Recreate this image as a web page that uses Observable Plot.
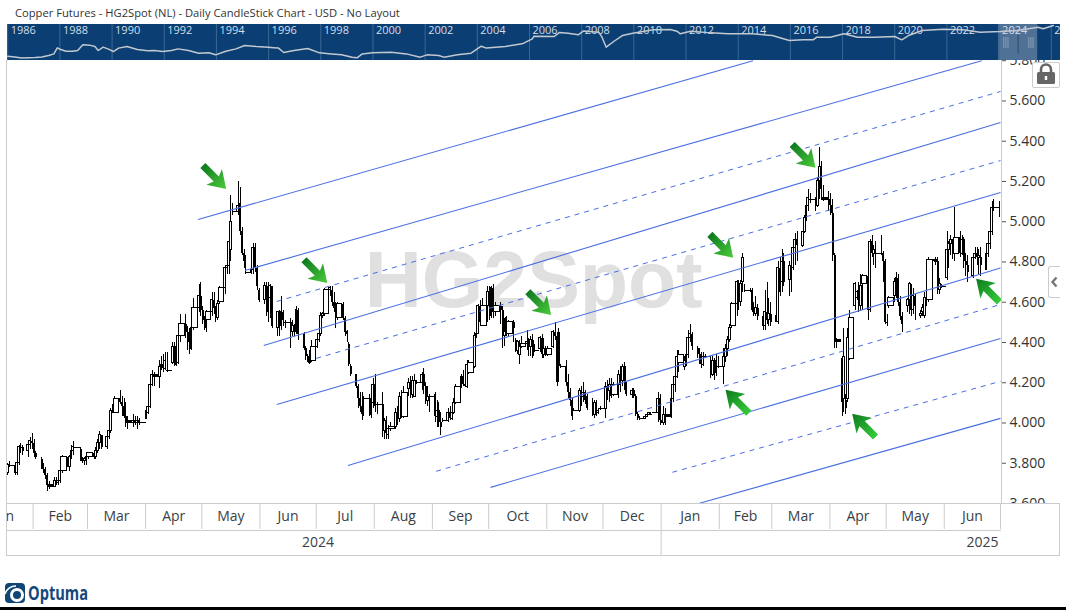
<!DOCTYPE html>
<html><head><meta charset="utf-8">
<script src="https://cdn.jsdelivr.net/npm/d3@7"></script>
<script src="https://cdn.jsdelivr.net/npm/@observablehq/plot@0.6"></script>
<style>
html,body{margin:0;padding:0;background:#fff;overflow:hidden}
#page{position:relative;width:1066px;height:610px;overflow:hidden;font-family:"Open Sans",sans-serif;color:#333}
#page>*{position:absolute}
.ln{background:#ccc}
</style></head><body><div id="page"></div>
<script>
// ---- Candles: daily prices in US cents, one row per trading week ----
const tradingStart = "2024-01-18", tradingEnd = "2025-07-02";
const openCents = [375,379,
379,375,380,388,388, 386,389,391,390,385, 382,378,377,374,369, 368,371,370,371,376, 383,378,383,386,388, 387,382,381,382,383,
385,383,386,390,394, 388,393,396,406,405, 412,410,408,403,401, 400,401,400,401,400, 402,405,408,419,424, 423,428,429,427,426,
430,438,429,430,443, 449,445,440,437,447, 457,463,456,451,451, 455,461,457,452,460, 467,477,478,486,505, 505,509,495,484,475,
475,476,487,477,466, 461,468,455,462,468, 447,455,448,455,450, 450,445,448,445,456, 444,437,433,431,431, 438,441,444,453,454,
466,466,460,458,452, 459,452,445,439,428, 424,418,412,408,412, 412,404,410,419,409, 409,396,397,394,397, 398,405,402,413,403,
417,420,414,413,420, 420,424,418,411,413, 414,403,406,400,401, 401,405,402,405,410, 418,423,419,418,425, 428,443,444,458,448,
458,465,453,467,455, 458,456,443,444,444, 450,441,436,434,438, 439,440,438,441,436, 437,442,434,437,434, 438,445,443,445,428,
428,420,415,411,406, 406,416,413,415,413, 407,404,410,405,407, 407,418,416,418,414, 419,424,421,428,418, 414,416,413,404,402,
402,403,404,404,405, 405,412,401,400,404, 403,412,419,423,430, 428,431,434,442,444, 437,434,431,429,433, 431,424,431,425,428,
428,433,437,441,448, 459,468,460,470,466, 466,466,456,454,457, 453,448,455,451,454, 450,450,477,470,480, 471,478,477,487,491,
488,495,502,508,511, 511,508,520,527,512, 511,508,504,483,441, 432,412,411,412,432, 458,462,465,458,469, 473,456,490,484,484,
484,484,480,450,458, 463,470,472,460,453, 458,461,465,456,463, 453,455,453,462,461, 481,481,480,466,468, 472,486,489,490,484,
492,484,491,480,478, 473,482,484,482,482, 476,484,489,495,507,
507,503];
const highCents = [380,381,
380,380,389,390,389, 391,393,395,392,386, 383,380,378,375,371, 373,373,374,377,384, 383,384,389,391,388, 388,383,383,384,385,
385,388,392,396,394, 394,397,407,409,413, 416,413,412,410,403, 404,403,403,402,400, 408,411,420,426,425, 431,433,434,435,435,
440,440,436,447,454, 454,448,447,450,462, 469,470,458,453,456, 465,465,458,461,468, 478,478,495,513,509, 520,517,497,486,483,
477,489,489,478,467, 470,470,470,469,468, 455,456,463,456,451, 452,451,449,458,457, 445,438,434,436,441, 444,447,455,455,467,
468,468,465,460,460, 460,453,446,440,429, 424,419,415,415,413, 414,416,422,424,410, 415,402,403,399,400, 407,408,415,416,418,
422,423,423,424,421, 425,427,420,418,414, 415,411,410,405,402, 407,408,408,412,419, 424,426,429,431,431, 445,447,459,461,462,
468,468,468,469,460, 460,458,452,453,451, 451,442,441,441,443, 446,442,443,444,439, 443,444,442,438,438, 446,450,445,447,429,
431,424,417,412,407, 417,418,420,416,414, 412,411,411,407,408, 420,421,422,422,420, 426,428,429,430,420, 417,417,414,405,403,
403,404,405,405,405, 415,414,404,408,407, 414,421,426,436,436, 433,435,446,449,445, 438,437,435,435,434, 433,433,432,434,433,
437,439,443,449,460, 471,471,471,484,469, 467,467,460,463,459, 454,466,470,462,460, 458,480,482,486,484, 480,480,489,494,495,
495,503,510,516,514, 512,522,537,530,518, 515,514,511,484,442, 433,447,414,447,456, 470,466,470,474,474, 473,491,493,488,490,
493,485,481,454,463, 472,475,474,463,455, 462,470,469,467,464, 456,459,465,467,482, 481,482,482,472,469, 495,490,493,491,507,
495,493,492,484,483, 483,487,487,486,487, 488,494,497,510,511,
510,512];
const lowCents = [374,378,
374,374,379,385,384, 383,387,387,383,382, 377,375,372,366,367, 368,369,369,370,375, 378,376,382,384,388, 381,380,379,379,382,
382,382,385,387,387, 387,392,395,405,405, 409,403,402,398,397, 398,399,397,399,400, 402,404,407,418,418, 417,426,425,426,425,
429,428,428,429,440, 442,436,434,436,446, 455,453,449,446,445, 453,454,450,451,459, 464,474,474,480,503, 503,493,483,477,474,
474,474,475,466,460, 459,453,450,452,447, 443,443,446,448,447, 437,443,443,444,441, 436,431,430,429,430, 437,440,443,452,453,
463,458,455,447,451, 451,443,440,428,423, 417,407,405,401,403, 403,402,407,405,404, 393,392,392,392,396, 397,399,400,402,402,
413,412,412,413,419, 416,414,409,408,405, 400,398,398,394,400, 400,401,401,404,409, 417,418,418,417,424, 427,442,444,448,448,
450,451,452,452,453, 449,437,438,443,443, 440,435,434,429,437, 436,433,433,432,435, 435,432,432,433,433, 437,441,418,420,427,
418,412,408,401,406, 405,408,410,409,406, 403,402,403,404,406, 402,411,410,412,413, 412,415,418,416,413, 412,412,403,401,401,
402,403,404,404,405, 400,399,400,399,399, 402,410,415,422,425, 426,428,432,440,436, 432,429,427,428,432, 422,423,421,423,427,
419,430,433,440,447, 453,456,458,465,465, 465,455,453,453,451, 446,446,449,448,448, 450,449,463,465,468, 463,465,476,478,480,
487,494,500,505,509, 505,507,511,512,510, 505,503,480,437,437, 403,405,404,410,431, 456,461,455,456,456, 451,455,482,478,477,
483,470,449,448,457, 460,462,458,451,445, 455,454,453,454,451, 452,453,452,458,460, 480,478,464,464,467, 471,477,483,481,480,
482,483,477,473,470, 472,481,478,474,473, 476,482,486,493,505,
502,502];
const closeCents = [379,379,
375,380,388,388,386, 389,391,390,385,383, 378,377,374,369,368, 371,370,371,376,383, 381,383,386,388,388, 382,381,382,383,385,
383,386,390,394,388, 393,396,406,405,412, 410,408,403,400,400, 401,400,401,400,400, 406,408,419,424,423, 428,429,427,431,426,
438,429,431,443,449, 445,440,437,447,457, 463,456,451,447,455, 461,457,452,459,467, 477,478,490,500,505, 508,495,484,480,475,
476,487,477,468,461, 468,455,462,468,448, 455,448,455,451,450, 445,448,445,456,444, 437,433,431,430,438, 441,444,453,454,466,
467,460,457,452,459, 452,445,444,429,424, 418,412,408,404,412, 404,410,419,408,409, 396,401,395,397,398, 405,402,413,403,415,
420,414,421,421,420, 424,418,411,413,413, 403,406,400,398,401, 405,402,405,410,418, 423,419,418,429,430, 443,444,458,450,458,
465,453,467,455,458, 456,443,445,452,450, 447,436,440,438,439, 440,438,441,433,436, 442,434,437,434,437, 445,443,420,428,428,
420,415,411,403,406, 416,413,415,411,407, 404,410,405,406,407, 418,416,419,413,419, 424,421,428,418,414, 416,413,404,402,402,
403,404,405,404,405, 412,401,400,404,403, 412,419,423,433,434, 431,434,442,444,438, 434,431,429,433,433, 424,431,425,430,428,
433,437,441,447,459, 470,460,469,482,466, 466,456,454,457,453, 448,455,451,454,450, 453,477,465,480,470, 478,473,487,491,488,
495,502,508,512,511, 508,520,527,516,511, 508,504,483,441,440, 410,433,407,442,452, 469,465,458,468,473, 456,490,484,486,484,
484,480,450,450,462, 470,472,460,453,449, 461,469,456,463,458, 454,457,462,460,481, 481,480,466,469,468, 486,489,491,484,492,
484,491,480,478,475, 482,484,482,483,478, 484,489,495,507,507,
505,507];

// ---- Channel lines: start date/price and the price where they leave the chart ----
const solidStart = ["2024-04-29","2024-05-24","2024-06-03","2024-06-10","2024-07-18","2024-10-02","2025-01-21"];
const solidStartPrice = [5.011,4.758,4.385,4.092,3.789,3.680,3.600];
const solidEnd = ["2025-02-19","2025-06-21","2025-07-01","2025-07-01","2025-07-01","2025-07-01","2025-07-01"];
const solidEndPrice = [5.80,5.80,5.493,5.145,4.770,4.420,4.023];
const dashStart = ["2024-06-10","2024-07-01","2024-09-03","2025-01-07"];
const dashStartPrice = [4.604,4.321,3.760,3.755];
const dashEnd = ["2025-07-01","2025-07-01","2025-07-01","2025-07-01"];
const dashEndPrice = [5.647,5.304,4.589,4.207];

// ---- Arrow tips ----
const downArrowDates = ["2024-05-14","2024-07-06T22:00Z","2024-11-03T08:00Z","2025-02-08T10:00Z","2025-03-24T08:00Z"];
const downArrowPrices = [5.163,4.695,4.536,4.821,5.268];
const upArrowDates = ["2025-02-04T08:00Z","2025-04-12T22:00Z","2025-06-18"];
const upArrowPrices = [4.165,4.046,4.717];

// ---- Axis text ----
const priceTicks = [3.6,3.8,4.0,4.2,4.4,4.6,4.8,5.0,5.2,5.4,5.6,5.8];
const monthNames = ["Jan","Feb","Mar","Apr","May","Jun","Jul","Aug","Sep","Oct","Nov","Dec","Jan","Feb","Mar","Apr","May","Jun"];
const monthStarts = ["2024-01-01","2024-02-01","2024-03-01","2024-04-01","2024-05-01","2024-06-01","2024-07-01","2024-08-01","2024-09-01","2024-10-01","2024-11-01","2024-12-01","2025-01-01","2025-02-01","2025-03-01","2025-04-01","2025-05-01","2025-06-01","2025-07-01"];

// ---- Overview strip (history since 1986) ----
const historyYears = [1986,1986.27,1986.53,1986.79,1987.05,1987.31,1987.57,1987.77,1987.9,1988.03,1988.23,1988.49,1988.68,1988.88,1989.14,1989.34,1989.47,1989.66,1989.86,1990.05,1990.25,1990.57,1990.97,1991.36,1991.62,1991.95,1992.27,1992.53,1992.93,1993.32,1993.71,1993.97,1994.36,1994.75,1995.08,1995.53,1995.99,1996.19,1996.38,1996.58,1996.97,1997.5,1997.95,1998.41,1998.8,1999.2,1999.39,1999.59,1999.98,2000.7,2001.28,2001.81,2002.07,2002.52,2002.72,2003.24,2003.76,2004.15,2004.35,2005.07,2005.72,2006.11,2006.17,2006.95,2007.15,2007.48,2007.87,2008.06,2008.65,2008.78,2008.94,2009.24,2009.56,2009.96,2010.35,2010.74,2011.39,2011.65,2011.78,2012.17,2012.96,2013.61,2014.53,2015.31,2015.96,2016.48,2016.87,2017,2017.53,2018.05,2018.57,2019.22,2020,2020.27,2020.53,2021.05,2021.84,2022.62,2023.27,2024.05,2024.71,2025.49,2025.69,2026.08];
const historyPrices = [.67,.64,.59,.60,.61,.64,.71,.79,1.20,1.07,.95,.95,1.0,1.48,1.45,1.32,1.0,1.26,1.10,.93,1.18,1.32,1.07,.98,1.0,.93,1.0,1.12,1.0,.83,.85,.74,.95,1.12,1.42,1.32,1.26,1.22,1.18,.87,1.0,1.15,.85,.79,.74,.63,.60,.79,.85,.89,.79,.63,.74,.71,.63,.74,.83,1.35,1.18,1.32,1.59,2.25,2.7,2.64,3.5,3.3,2.97,3.85,3.57,2.52,1.26,1.9,2.83,3.33,3.74,4.2,4.3,3.83,3.18,3.83,3.4,3.18,3.18,2.83,2.0,2.1,2.1,2.5,2.5,3.18,2.52,2.52,2.64,2.1,2.83,4.0,4.4,4.2,3.57,3.74,4.0,5.05,4.5,5.68];
const historyLabels = [1986,1988,1990,1992,1994,1996,1998,2000,2002,2004,2006,2008,2010,2012,2014,2016,2018,2020,2022,2024,2026];
const windowYears = [2023.98,2025.48];
const gripYears = [2024.18,2024.26,2024.34,2025.14,2025.22,2025.3];

// ---- Build ----
const parse = d => new Date(d);
const DAY = 864e5;
const dates = d3.utcDays(parse(tradingStart), parse(tradingEnd)).filter(d => d.getUTCDay() % 6 !== 0);
[openCents,highCents,lowCents,closeCents].forEach(a => { if (a.length !== dates.length) throw new Error("length " + a.length + " vs " + dates.length); });
const candles = dates.map((date,i) => {
  const open = openCents[i]/100, close = closeCents[i]/100;
  const wide = close >= open - 0.01;
  const next = dates[i+1] || new Date(+date + DAY);
  return {date, open, close, high: highCents[i]/100, low: lowCents[i]/100, up: close >= open, wide,
          wick: new Date(+date + DAY/2), end: next};
});
const solidLines = solidStart.map((d,i) => ({x1:parse(d), y1:solidStartPrice[i], x2:parse(solidEnd[i]), y2:solidEndPrice[i]}));
const dashLines = dashStart.map((d,i) => ({x1:parse(d), y1:dashStartPrice[i], x2:parse(dashEnd[i]), y2:dashEndPrice[i]}));
const downArrows = downArrowDates.map((d,i) => ({x:parse(d), y:downArrowPrices[i]}));
const upArrows = upArrowDates.map((d,i) => ({x:parse(d), y:upArrowPrices[i]}));
const xDomain = [new Date("2024-01-18T08:24Z"), new Date("2025-07-01")];
const blue = "#4a6fe3";
const arrowShape = {draw(c,l){
  c.moveTo(0,-l); c.lineTo(11,-l+17); c.lineTo(3.6,-l+14); c.lineTo(3.6,0); c.lineTo(-3.6,0); c.lineTo(-3.6,-l+14); c.lineTo(-11,-l+17); c.closePath();
}};
const crisp = {stroke:"#000", strokeWidth:1, clip:true, shapeRendering:"crispEdges"};

const main = Plot.plot({
  width:1066, height:443, marginTop:0, marginBottom:0, marginLeft:7, marginRight:66,
  style:{fontFamily:"Open Sans", background:"transparent", color:"#333"},
  x:{domain:xDomain, axis:null, type:"utc"},
  y:{domain:[3.6,5.801], axis:null},
  marks:[
    Plot.text(["HG2Spot"],{x:()=>new Date("2024-10-25"), y:()=>4.703, text:d=>d, fontFamily:"Liberation Sans", fontWeight:"bold", fontSize:79, fill:"#e0e0e0"}),
    Plot.ruleX(candles,{x:"wick", y1:"low", y2:"high", ...crisp}),
    Plot.rect(candles,{filter:d=>d.up, x1:"date", x2:"end", y1:"open", y2:"close", fill:"#fff", ...crisp}),
    Plot.rect(candles,{filter:d=>!d.up && d.wide, x1:"date", x2:"end", y1:"open", y2:"close", fill:"#000", ...crisp}),
    Plot.ruleX(candles,{filter:d=>!d.wide, x:"wick", y1:"open", y2:"close", ...crisp, strokeWidth:2}),
    Plot.link(candles,{filter:d=>d.open===d.close, x1:"date", x2:"end", y1:"close", y2:"close", ...crisp}),
    Plot.link(solidLines,{x1:"x1", y1:"y1", x2:"x2", y2:"y2", stroke:blue, strokeWidth:1.1}),
    Plot.link(dashLines,{x1:"x1", y1:"y1", x2:"x2", y2:"y2", stroke:blue, strokeWidth:1, strokeDasharray:"5,5"}),
    Plot.vector(downArrows,{x:"x", y:"y", length:33, rotate:135, anchor:"end", shape:arrowShape, fill:"url(#arrowDown)", stroke:"none"}),
    Plot.vector(upArrows,{x:"x", y:"y", length:33, rotate:-45, anchor:"end", shape:arrowShape, fill:"url(#arrowUp)", stroke:"none"}),
    Plot.axisY(priceTicks,{anchor:"right", tickSize:5, tickPadding:4, tickFormat:d3.format(".3f"), fontSize:14, fill:"#333", stroke:"#555", label:null})
  ]
});
main.insertAdjacentHTML("afterbegin",`<defs>
<linearGradient id="arrowDown" x1="0" y1="0" x2="0" y2="1"><stop offset="0" stop-color="#4ccc3c"/><stop offset="1" stop-color="#0e7a20"/></linearGradient>
<linearGradient id="arrowUp" x1="0" y1="0" x2="0" y2="1"><stop offset="0" stop-color="#0d7a1e"/><stop offset="1" stop-color="#36cc3a"/></linearGradient>
</defs>`);
Object.assign(main.style,{left:"0",top:"60px"});

const history = historyYears.map((x,i)=>({x,y:historyPrices[i]}));
const overview = Plot.plot({
  width:1053.4, height:36, margin:0,
  style:{fontFamily:"Open Sans", background:"#0b3e72"},
  x:{domain:[1986,2026.36], axis:null},
  y:{type:"log", domain:[0.5,6.08], axis:null},
  marks:[
    Plot.rectX(windowYears.slice(0,1),{x1:()=>windowYears[0], x2:()=>windowYears[1], fill:"#4f7196"}),
    Plot.ruleX(historyLabels,{stroke:"#3c6795", strokeWidth:1}),
    Plot.text(historyLabels,{x:d=>d, text:d=>String(d), frameAnchor:"top", textAnchor:"start", dx:3, dy:2, fontSize:11, fill:"#d3deea"}),
    Plot.line(history,{x:"x", y:"y", stroke:"#c2c8cf", strokeWidth:1.5}),
    Plot.ruleX(gripYears,{y1:1.15, y2:2.47, stroke:"#a3b1c2", strokeWidth:0.7}),
    Plot.ruleX([(windowYears[0]+windowYears[1])/2],{y1:.79, y2:2.83, stroke:"#2a3f55", strokeWidth:0.8})
  ]
});
Object.assign(overview.style,{left:"6.6px",top:"24px"});

const months = monthNames.map((name,i)=>({name, x:new Date((+parse(monthStarts[i]) + +parse(monthStarts[i+1]))/2)}));
const timeAxis = Plot.plot({
  width:1066, height:52, marginTop:0, marginBottom:0, marginLeft:7, marginRight:66,
  style:{fontFamily:"Open Sans", background:"#fff", overflow:"visible"},
  x:{domain:xDomain, type:"utc", axis:null},
  y:{domain:["month","year"], axis:null, padding:0},
  marks:[
    Plot.tickX(monthStarts.map(parse),{x:d=>d, y:()=>"month", stroke:"#ccc", strokeWidth:1}),
    Plot.tickX([parse("2025-01-01")],{x:d=>d, y:()=>"year", stroke:"#ccc", strokeWidth:1}),
    Plot.text(months,{x:"x", y:()=>"month", text:"name", fontSize:14, fill:"#3a3f44", clip:true}),
    Plot.text(["2024"],{x:()=>parse("2024-07-02"), y:()=>"year", text:d=>d, fontSize:14, fill:"#3a3f44"}),
    Plot.text(["2025"],{x:()=>parse("2025-07-01"), y:()=>"year", text:d=>d, fontSize:14, fill:"#3a3f44", textAnchor:"end", dx:-2})
  ]
});
Object.assign(timeAxis.style,{left:"0",top:"503px"});

// ---- Page furniture ----
const page = document.getElementById("page");
const div = (css,html) => { const d=document.createElement("div"); d.style.cssText=css; if(html) d.innerHTML=html; page.appendChild(d); return d; };
div("left:15px;top:4px;font-size:11.2px;line-height:17px;white-space:nowrap;color:#333","Copper Futures - HG2Spot (NL) - Daily CandleStick Chart - USD - No Layout");
page.appendChild(main);
page.appendChild(timeAxis);
page.appendChild(overview);
const L = (l,t,w,h) => div(`left:${l}px;top:${t}px;width:${w}px;height:${h}px`).className="ln";
L(6,60,1,495); L(1001,60,1,443); L(6,503,1054,1); L(6,530,995,1); L(6,555,1054,1); L(1059,503,1,53);
div("left:1032px;top:62px;width:26px;height:24px;background:#fff;border:1px solid #ccc;border-radius:2px",
  `<svg width="26" height="24" viewBox="0 0 26 24"><path d="M8 9V6.5a5 5 0 0 1 10 0V9" fill="none" stroke="#666" stroke-width="2.6"/><rect x="4" y="9" width="18" height="12" rx="1.5" fill="#666"/><rect x="11.8" y="13" width="2.4" height="4" fill="#fff"/></svg>`);
div("left:1048px;top:266px;width:11px;height:30px;background:#fff;border:1px solid #ccc;border-right:none;border-radius:3px 0 0 3px",
  `<svg width="11" height="30"><path d="M7.5 10.5 L3.5 15 L7.5 19.5" fill="none" stroke="#777" stroke-width="2.4"/></svg>`);
div("left:5px;top:582px;width:90px;height:22px",
  `<svg width="90" height="22"><rect x="0" y="1" width="20" height="20" rx="4" fill="#0f4675"/><circle cx="12" cy="13" r="5.5" fill="none" stroke="#fff" stroke-width="3"/><path d="M0 12 a11 11 0 0 1 11 -8" fill="none" stroke="#fff" stroke-width="1.5"/><text x="23" y="17.5" font-family="Open Sans" font-weight="700" font-size="19" fill="#14487a" textLength="60" lengthAdjust="spacingAndGlyphs">Optuma</text></svg>`);
div("left:0;top:607px;width:1066px;height:3px;background:#000");
</script></body></html>
